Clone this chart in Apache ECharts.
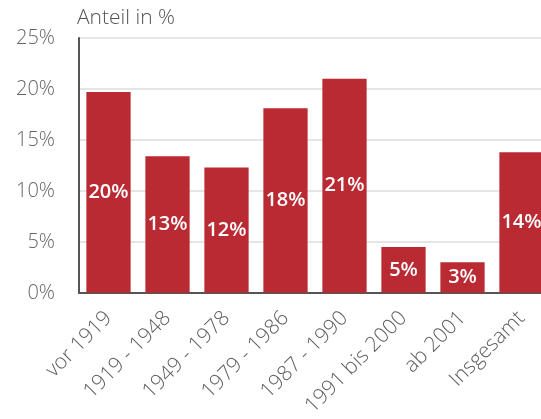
<!DOCTYPE html>
<html>
<head>
<meta charset="utf-8">
<script src="https://cdn.jsdelivr.net/npm/echarts@6/dist/echarts.min.js"></script>
<style>
  html, body { margin: 0; padding: 0; background: #fff; overflow: hidden; }
  body { width: 541px; height: 419px; }
  /* the plot runs a little past the right edge, cutting off the last bar */
  #chart { width: 551px; height: 419px; }
</style>
</head>
<body>
<div id="chart"></div>
<script>
// Baujahr categories and their share in percent
const categories = ['vor 1919', '1919 - 1948', '1949 - 1978', '1979 - 1986', '1987 - 1990', '1991 bis 2000', 'ab 2001', 'Insgesamt'];
const shares = [19.7, 13.4, 12.3, 18.1, 21.0, 4.5, 3.0, 13.8];
const yTicks = [0, 5, 10, 15, 20, 25];

const chart = echarts.init(document.getElementById('chart'), null, { renderer: 'canvas' });

const font = '"Open Sans", "Noto Sans", sans-serif';

chart.setOption({
  animation: false,
  grid: { left: 79, top: 38, bottom: 125, right: 0, containLabel: false },
  xAxis: {
    type: 'category',
    data: categories,
    axisLine: { show: true, lineStyle: { color: '#555', width: 2 } },
    axisTick: { show: false },
    axisLabel: {
      rotate: 45,
      interval: 0,
      margin: 22,
      color: '#5e5e5e',
      fontSize: 21,
      fontWeight: 300,
      fontFamily: font
    }
  },
  yAxis: {
    type: 'value',
    min: yTicks[0],
    max: yTicks[yTicks.length - 1],
    interval: yTicks[1] - yTicks[0],
    name: 'Anteil in %',
    nameLocation: 'end',
    nameGap: 9,
    nameTextStyle: { color: '#555', fontSize: 21, fontWeight: 300, fontFamily: font, align: 'left', padding: [0, 0, 0, -2] },
    axisLine: { show: true, lineStyle: { color: '#555', width: 2 } },
    axisTick: { show: false },
    splitLine: { show: true, lineStyle: { color: '#dcdcdc', width: 1.5 } },
    axisLabel: {
      formatter: '{value}%',
      margin: 24,
      color: '#666',
      fontSize: 20,
      fontWeight: 300,
      fontFamily: font
    }
  },
  series: [{
    type: 'bar',
    data: shares,
    barCategoryGap: '25%',
    itemStyle: { color: '#ba2a33' },
    label: {
      show: true,
      position: 'inside',
      color: '#fff',
      fontSize: 20,
      fontWeight: 600,
      fontFamily: font,
      formatter: p => Math.round(p.value) + '%'
    }
  }]
});
</script>
</body>
</html>
